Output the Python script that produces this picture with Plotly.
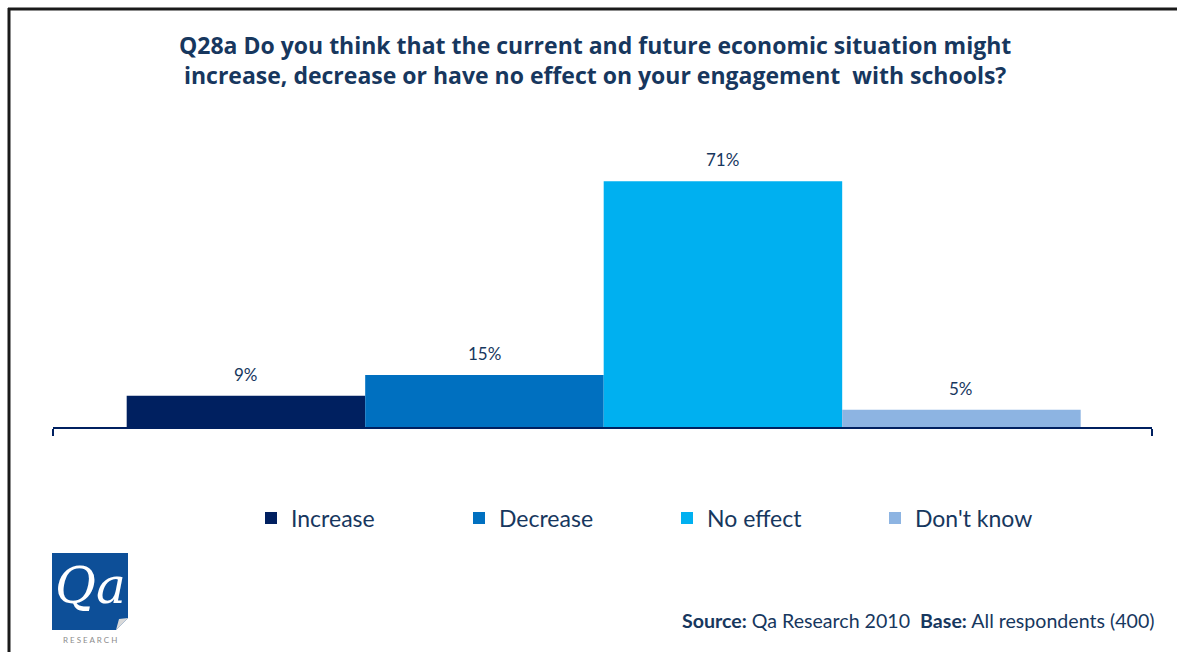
import plotly.graph_objects as go

W, H = 1177, 652
ML, MR, MT, MB = 53, 25, 150, 225

categories = ["Increase", "Decrease", "No effect", "Don't know"]
values = [9, 15, 71, 5]
colors = ["#002060", "#0070C0", "#00B0F0", "#8DB4E2"]

TEXT = "#17375E"
FONT = "Lato"

PW = W - ML - MR
PH = H - MT - MB

# bars sit side by side at 0..3 with unit width; leave a margin on both ends of the axis
BAR_PX = 238.5
half_span = PW / BAR_PX / 2
X0, X1 = 1.5 - half_span - 0.005, 1.5 + half_span - 0.005


def px(x):
    return (x - ML) / PW


def py(y):
    return (H - MB - y) / PH


fig = go.Figure()
annotations = []
for i, (name, v, c) in enumerate(zip(categories, values, colors)):
    fig.add_trace(go.Bar(
        x=[i], y=[v], width=[1], name=name, marker=dict(color=c, line=dict(width=0)),
        hoverinfo="name+y",
    ))
    annotations.append(dict(
        x=i, y=v, xref="x", yref="y", text=f"{v}%", showarrow=False,
        xanchor="center", yanchor="bottom", yshift=9,
        font=dict(family=FONT, size=17, color=TEXT),
    ))

shapes = [
    # page frame
    dict(type="line", xref="paper", yref="paper", x0=px(8), x1=px(W), y0=py(9), y1=py(9),
         line=dict(color="#1a1a1a", width=3)),
    dict(type="line", xref="paper", yref="paper", x0=px(9), x1=px(9), y0=py(8), y1=py(H),
         line=dict(color="#1a1a1a", width=3)),
    # logo tile
    dict(type="rect", xref="paper", yref="paper", x0=px(52), x1=px(128), y0=py(630), y1=py(553),
         fillcolor="#0D4F98", line=dict(width=0), layer="above"),
    dict(type="path", xref="paper", yref="paper",
         path=f"M {px(116)},{py(630)} L {px(128)},{py(618)} L {px(128)},{py(630)} Z",
         fillcolor="white", line=dict(width=0), layer="above"),
    dict(type="path", xref="paper", yref="paper",
         path=f"M {px(116)},{py(630)} L {px(128)},{py(618)} L {px(119)},{py(619)} Z",
         fillcolor="#D9D9D9", line=dict(width=0), layer="above"),
]

annotations += [
    dict(xref="paper", yref="paper", x=px(595), y=py(60), xanchor="center", yanchor="middle",
         text="<b>Q28a Do you think that the current and future economic situation might<br>"
              "increase, decrease or have no effect on your engagement  with schools?</b>",
         showarrow=False, align="center",
         font=dict(family="Open Sans", size=23, color=TEXT)),
    dict(xref="paper", yref="paper", x=px(1157), y=py(620), xanchor="right", yanchor="middle",
         text="<b>Source:</b> Qa Research 2010  <b>Base:</b> All respondents (400)",
         showarrow=False, font=dict(family=FONT, size=19.6, color=TEXT)),
    dict(xref="paper", yref="paper", x=px(90), y=py(586), xanchor="center", yanchor="middle",
         text="<i>Qa</i>", showarrow=False,
         font=dict(family="DejaVu Serif", size=50, color="white")),
    dict(xref="paper", yref="paper", x=px(90), y=py(640), xanchor="center", yanchor="middle",
         text="R E S E A R C H", showarrow=False,
         font=dict(family=FONT, size=8, color="#8C8C8C")),
]

fig.update_layout(
    width=W, height=H,
    margin=dict(l=ML, r=MR, t=MT, b=MB, autoexpand=False),
    paper_bgcolor="white", plot_bgcolor="white",
    barmode="overlay",
    xaxis=dict(range=[X0, X1], showline=True, linecolor="#002060", linewidth=2,
               ticks="outside", tickvals=[X0, X1], ticklen=7, tickwidth=2,
               tickcolor="#002060", showticklabels=False, showgrid=False, zeroline=False),
    yaxis=dict(range=[0, 80], visible=False, showgrid=False, zeroline=False),
    legend=dict(orientation="h", x=px(251), y=py(518), xanchor="left", yanchor="middle",
                entrywidth=163, entrywidthmode="pixels", traceorder="normal",
                font=dict(family=FONT, size=23, color=TEXT), itemwidth=30),
    shapes=shapes, annotations=annotations,
)

fig.write_html("out.html")
